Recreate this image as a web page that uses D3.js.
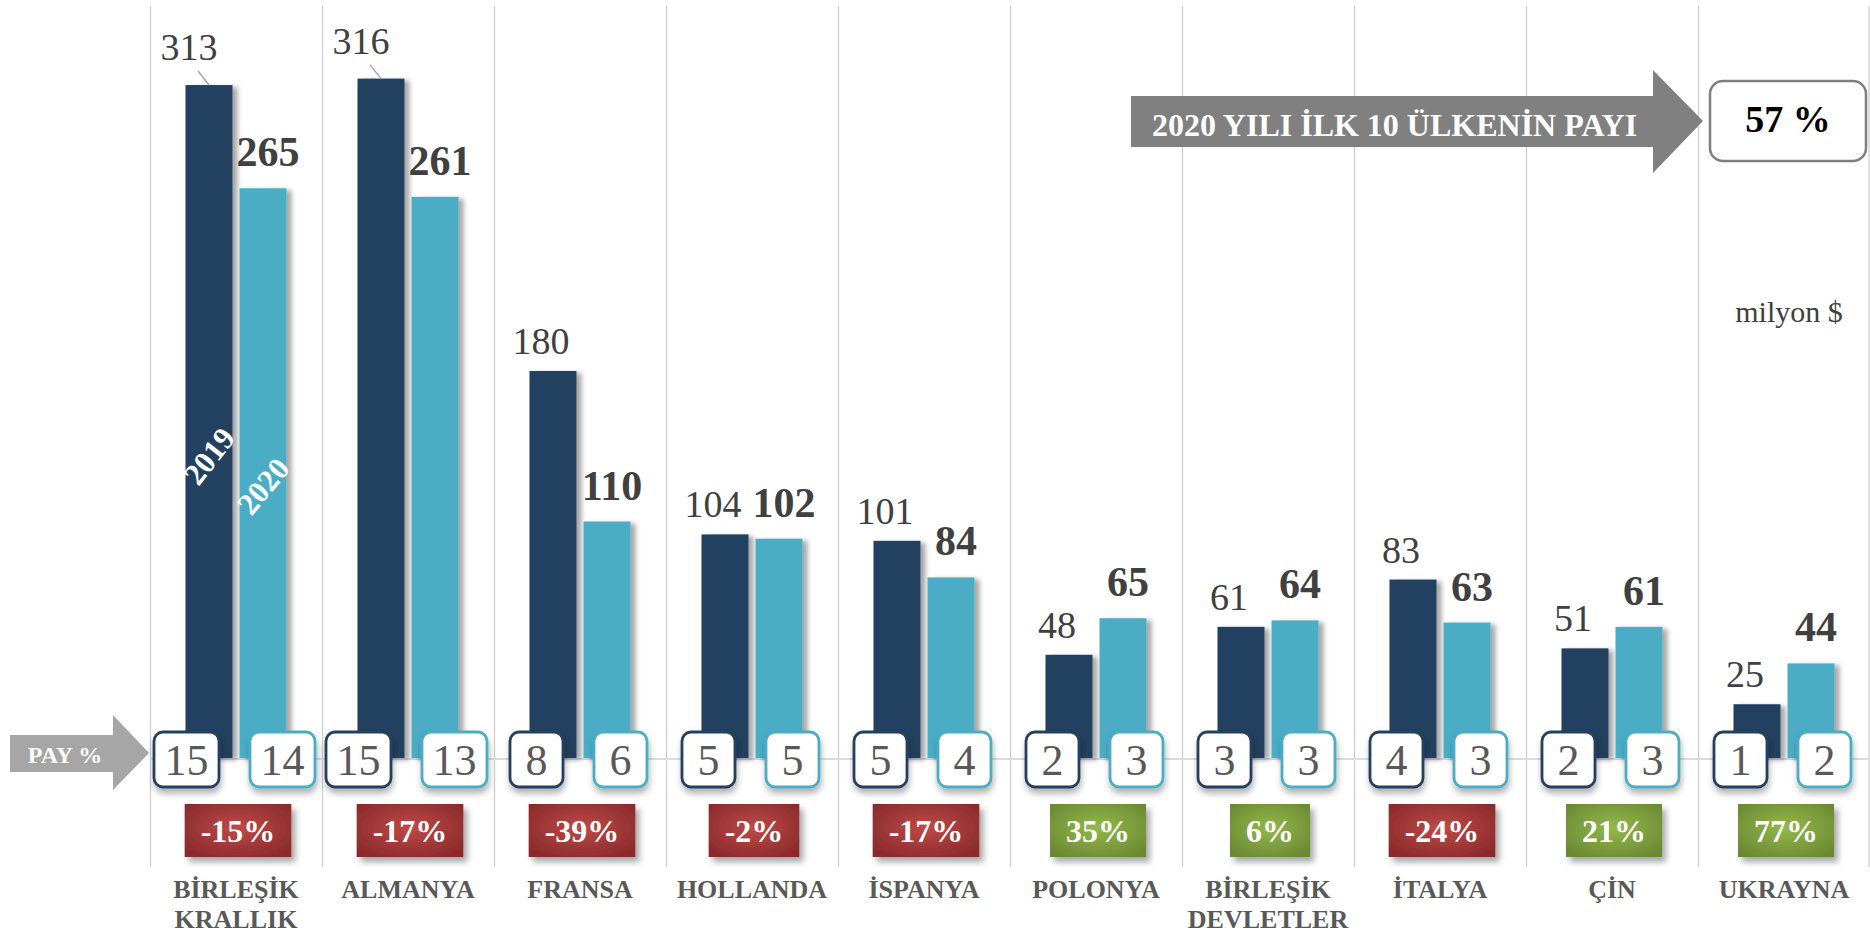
<!DOCTYPE html>
<html>
<head>
<meta charset="utf-8">
<script src="https://cdn.jsdelivr.net/npm/d3@7"></script>
<style>
  body { margin: 0; background: #fff; }
  svg { display: block; }
</style>
</head>
<body>
<script>
// values (milyon $)
const categories = ["BİRLEŞİK KRALLIK", "ALMANYA", "FRANSA", "HOLLANDA", "İSPANYA",
                    "POLONYA", "BİRLEŞİK DEVLETLER", "İTALYA", "ÇİN", "UKRAYNA"];
const years = ["2019", "2020"];
const values2019 = [313, 316, 180, 104, 101, 48, 61, 83, 51, 25];
const values2020 = [265, 261, 110, 102, 84, 65, 64, 63, 61, 44];
const share2019 = [15, 15, 8, 5, 5, 2, 3, 4, 2, 1];
const share2020 = [14, 13, 6, 5, 4, 3, 3, 3, 3, 2];
const change = [-15, -17, -39, -2, -17, 35, 6, -24, 21, 77];
const titleText = "2020 YILI İLK 10 ÜLKENİN PAYI";
const totalShare = "57 %";
const unitText = "milyon $";

const width = 1870, height = 934;
const baseY = 758;
const serif = "'Liberation Serif','Times New Roman',serif";
const colors = { "2019": "#243f60", "2020": "#4bacc6" };

const svg = d3.select("body").append("svg")
    .attr("width", width)
    .attr("height", height)
    .style("font-family", serif);

const defs = svg.append("defs");

function shadow(id, dx, dy, sd, op) {
    defs.append("filter").attr("id", id)
        .attr("x", "-30%").attr("y", "-30%").attr("width", "160%").attr("height", "160%")
        .append("feDropShadow")
        .attr("dx", dx).attr("dy", dy).attr("stdDeviation", sd)
        .attr("flood-color", "#000").attr("flood-opacity", op);
}
shadow("barShadow", 5, 2, 2.5, 0.35);
shadow("boxShadow", 1, 5, 3, 0.3);
shadow("chgShadow", 4, 5, 3, 0.35);

function radial(id, inner, outer) {
    const g = defs.append("radialGradient").attr("id", id)
        .attr("cx", "50%").attr("cy", "45%").attr("r", "65%");
    g.append("stop").attr("offset", "0%").attr("stop-color", inner);
    g.append("stop").attr("offset", "100%").attr("stop-color", outer);
}
radial("redGrad", "#bd4a48", "#8a2a2b");
radial("greenGrad", "#93b84b", "#6b8932");

const x = d3.scaleBand().domain(categories).range([150, 1870]);
const x1 = d3.scaleBand().domain(years).range([35.5, 136.5]).paddingInner(0.13);
const y = d3.scaleLinear().domain([0, 350]).range([baseY, 5.5]);
const bw = x1.bandwidth();

const rows = categories.map((c, i) => ({
    cat: c,
    vals: [values2019[i], values2020[i]],
    shares: [share2019[i], share2020[i]],
    chg: change[i]
}));

// vertical separators
const edges = categories.map(c => x(c)).concat([x.range()[1] - 1.5]);
svg.append("g").selectAll("line").data(edges).enter().append("line")
    .attr("x1", d => d + 0.5).attr("x2", d => d + 0.5)
    .attr("y1", 6).attr("y2", 867)
    .attr("stroke", "#cfcfcf").attr("stroke-width", 1.3);

// axis line
svg.append("line")
    .attr("x1", 150).attr("x2", width)
    .attr("y1", baseY + 1).attr("y2", baseY + 1)
    .attr("stroke", "#dcdcdc").attr("stroke-width", 2);

const cat = svg.append("g").selectAll("g").data(rows).enter().append("g")
    .attr("transform", d => `translate(${x(d.cat)},0)`);

// bars
cat.selectAll("rect.bar")
    .data(d => years.map((yr, k) => ({ yr, v: d.vals[k] })))
    .enter().append("rect")
    .attr("class", "bar")
    .attr("x", d => x1(d.yr))
    .attr("y", d => y(d.v))
    .attr("width", bw)
    .attr("height", d => baseY - y(d.v))
    .attr("fill", d => colors[d.yr])
    .attr("filter", "url(#barShadow)");

// 2019 value labels (tall ones pushed up with a leader line)
cat.each(function (d) {
    const g = d3.select(this);
    const v = d.vals[0];
    const cx = x1("2019") + bw / 2;
    const moved = v > 300;
    const lx = cx + (moved ? -20 : -12);
    const ly = y(v) - (moved ? 25 : 17);
    if (moved) {
        g.append("line")
            .attr("x1", lx + 9).attr("y1", ly + 11)
            .attr("x2", cx).attr("y2", y(v))
            .attr("stroke", "#a6a6a6").attr("stroke-width", 1.5);
    }
    g.append("text")
        .attr("x", lx).attr("y", ly)
        .attr("text-anchor", "middle")
        .attr("font-size", 38)
        .attr("fill", "#404040")
        .text(v);

    const v2 = d.vals[1];
    g.append("text")
        .attr("x", x1("2020") + bw / 2 + 5).attr("y", y(v2) - 22)
        .attr("text-anchor", "middle")
        .attr("font-size", 42)
        .attr("font-weight", "bold")
        .attr("fill", "#404040")
        .text(v2);
});

// series names inside first pair of bars
const c0 = categories[0];
[["2019", 456, -52], ["2020", 486, -50]].forEach(([yr, cy, rot]) => {
    svg.append("text")
        .attr("transform", `translate(${x(c0) + x1(yr) + bw / 2},${cy}) rotate(${rot})`)
        .attr("text-anchor", "middle")
        .attr("dy", "0.35em")
        .attr("font-size", 31)
        .attr("font-weight", "bold")
        .attr("fill", "#fff")
        .text(yr);
});

// PAY % boxes
cat.each(function (d) {
    const g = d3.select(this);
    const mid = x.bandwidth() / 2;
    d.shares.forEach((s, k) => {
        const w = String(s).length > 1 ? 65 : 53;
        const bx = k === 0 ? mid - 17 - w : mid + 14;
        g.append("rect")
            .attr("x", bx).attr("y", 732)
            .attr("width", w).attr("height", 55)
            .attr("rx", 9)
            .attr("fill", "#fff")
            .attr("stroke", colors[years[k]])
            .attr("stroke-width", 2.8)
            .attr("filter", "url(#boxShadow)");
        g.append("text")
            .attr("x", bx + w / 2).attr("y", 775)
            .attr("text-anchor", "middle")
            .attr("font-size", 44)
            .attr("fill", "#595959")
            .text(s);
    });
});

// change boxes
cat.each(function (d) {
    const g = d3.select(this);
    const mid = x.bandwidth() / 2;
    const bg = g.append("rect");
    const t = g.append("text")
        .attr("x", mid + 2).attr("y", 842)
        .attr("text-anchor", "middle")
        .attr("font-size", 32)
        .attr("font-weight", "bold")
        .attr("fill", "#fff")
        .text(d.chg + "%");
    const tw = t.node().getComputedTextLength();
    const w = tw + 32;
    bg.attr("x", mid + 2 - w / 2).attr("y", 804)
        .attr("width", w).attr("height", 53)
        .attr("fill", d.chg < 0 ? "url(#redGrad)" : "url(#greenGrad)")
        .attr("filter", "url(#chgShadow)");
});

// category names
cat.append("text")
    .attr("text-anchor", "middle")
    .attr("font-size", 26)
    .attr("font-weight", "bold")
    .attr("fill", "#595959")
    .selectAll("tspan")
    .data(d => d.cat.split(" "))
    .enter().append("tspan")
    .attr("x", x.bandwidth() / 2)
    .attr("y", (d, i) => 898 + i * 30)
    .text(d => d);

// PAY % arrow
const arrow = d3.line();
svg.append("path")
    .attr("d", arrow([[10, 735], [113, 735], [113, 715], [149, 753], [113, 790], [113, 772], [10, 772]]) + "Z")
    .attr("fill", "#a6a6a6");
svg.append("text")
    .attr("x", 65).attr("y", 763)
    .attr("text-anchor", "middle")
    .attr("font-size", 24)
    .attr("font-weight", "bold")
    .attr("fill", "#fff")
    .text("PAY %");

// title arrow and total share
svg.append("path")
    .attr("d", arrow([[1131, 96], [1653, 96], [1653, 70], [1703, 121], [1653, 173], [1653, 147], [1131, 147]]) + "Z")
    .attr("fill", "#808080");
svg.append("text")
    .attr("x", 1152).attr("y", 136)
    .attr("font-size", 32)
    .attr("font-weight", "bold")
    .attr("fill", "#fff")
    .text(titleText);

svg.append("rect")
    .attr("x", 1710).attr("y", 81)
    .attr("width", 156).attr("height", 80)
    .attr("rx", 13)
    .attr("fill", "#fff")
    .attr("stroke", "#7f7f7f")
    .attr("stroke-width", 2.5);
svg.append("text")
    .attr("x", 1788).attr("y", 132)
    .attr("text-anchor", "middle")
    .attr("font-size", 38)
    .attr("font-weight", "bold")
    .attr("fill", "#000")
    .text(totalShare);

svg.append("text")
    .attr("x", 1789).attr("y", 322)
    .attr("text-anchor", "middle")
    .attr("font-size", 30)
    .attr("fill", "#404040")
    .text(unitText);
</script>
</body>
</html>
